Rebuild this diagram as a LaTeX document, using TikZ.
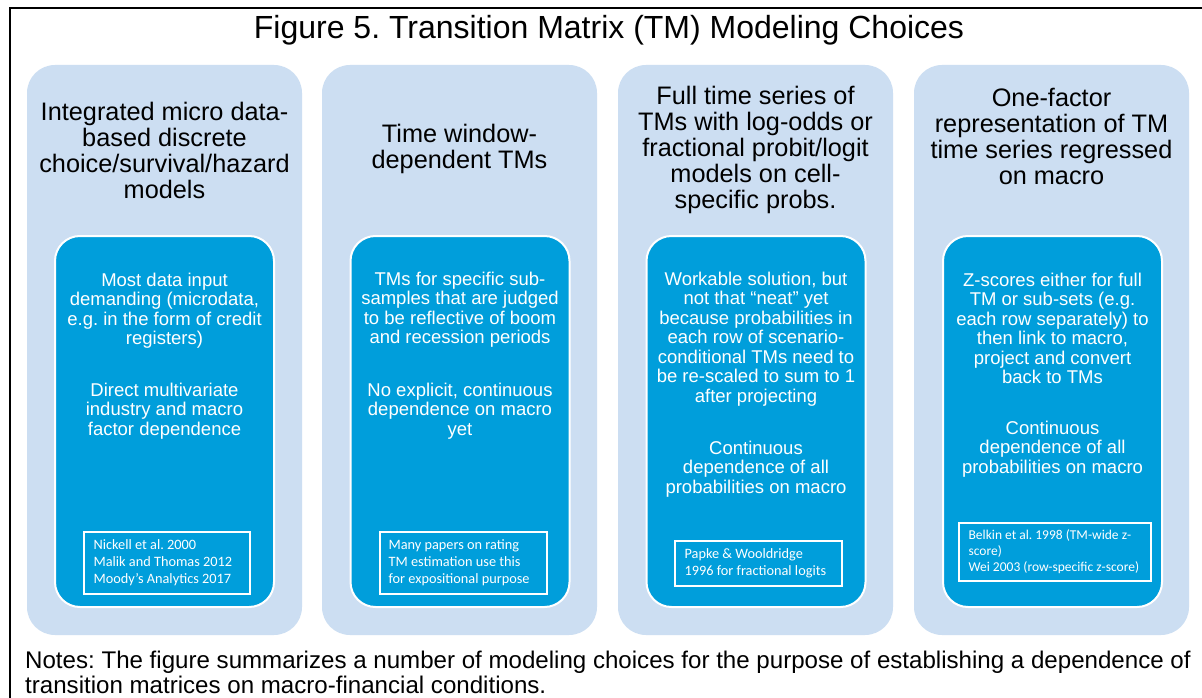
\documentclass[tikz,border=0pt]{standalone}
\usepackage{fontspec}
\setmainfont{Liberation Sans}
\newfontfamily\reffont{Carlito}
\definecolor{outerblue}{HTML}{CCDEF2}
\definecolor{innerblue}{HTML}{009EDB}
\frenchspacing
\begin{document}
\begin{tikzpicture}[x=1pt,y=-1pt,
 outerbox/.style={fill=outerblue, rounded corners=28pt, minimum width=275pt, minimum height=570pt, inner sep=0pt},
 innerbox/.style={fill=innerblue, draw=white, line width=2pt, rounded corners=25pt, minimum width=219pt, minimum height=371pt, inner sep=0pt},
 head/.style={align=center, font=\fontsize{25.3}{26}\selectfont, text=black, inner sep=0pt},
 body/.style={align=center, font=\fontsize{18.5}{19.5}\selectfont, text=white, inner sep=0pt},
 refbox/.style={draw=white, line width=1.2pt, inner sep=0pt},
 reftext/.style={align=left, font=\reffont\fontsize{14.3}{17}\selectfont, text=white, inner sep=0pt, anchor=west},
]
\useasboundingbox (0,0) rectangle (1202,698);
\clip (0,0) rectangle (1202,698);
\fill[white] (0,0) rectangle (1202,698);
\coordinate (fbl) at (10,720);
\coordinate (ftl) at (10,8);
\coordinate (ftr) at (1220,8);
\draw[line width=2.5pt] (fbl) -- (ftl) -- (ftr);

\node[inner sep=0pt, font=\fontsize{32}{34}\selectfont] (title) at (609,30) {Figure 5. Transition Matrix (TM) Modeling Choices};

% outer boxes
\node[outerbox] (o1) at (164.5,350) {};
\node[outerbox] (o2) at (459.5,350) {};
\node[outerbox] (o3) at (755.5,350) {};
\node[outerbox] (o4) at (1051.5,350) {};

% inner boxes
\node[innerbox] (i1) at (164.5,421.5) {};
\node[innerbox] (i2) at (460,421.5) {};
\node[innerbox] (i3) at (756,421.5) {};
\node[innerbox] (i4) at (1052.5,421.5) {};

% headers
\node[head] (h1) at (164.5,150) {Integrated micro data-\\based discrete\\choice/survival/hazard\\models};
\node[head] (h2) at (459.5,148.5) {Time window-\\dependent TMs};
\node[head] (h3) at (755.5,150) {Full time series of\\TMs with log-odds or\\fractional probit/logit\\models on cell-\\specific probs.};
\node[head] (h4) at (1051.5,136.5) {One-factor\\representation of TM\\time series regressed\\on macro};

% body texts
\node[body] (b1a) at (164.5,310.5) {Most data input\\demanding (microdata,\\e.g. in the form of credit\\registers)};
\node[body] (b1b) at (164.5,411) {Direct multivariate\\industry and macro\\factor dependence};
\node[body] (b2a) at (460,309.5) {TMs for specific sub-\\samples that are judged\\to be reflective of boom\\and recession periods};
\node[body] (b2b) at (460,411) {No explicit, continuous\\dependence on macro\\yet};
\node[body] (b3a) at (756,339) {Workable solution, but\\not that “neat” yet\\because probabilities in\\each row of scenario-\\conditional TMs need to\\be re-scaled to sum to 1\\after projecting};
\node[body] (b3b) at (756,469) {Continuous\\dependence of all\\probabilities on macro};
\node[body] (b4a) at (1052.5,328.5) {Z-scores either for full\\TM or sub-sets (e.g.\\each row separately) to\\then link to macro,\\project and convert\\back to TMs};
\node[body] (b4b) at (1052.5,449) {Continuous\\dependence of all\\probabilities on macro};

% reference boxes
\node[refbox, minimum width=166pt, minimum height=62pt] (r1) at (167,563) {};
\node[reftext] (t1) at ([xshift=10pt]r1.west) {Nickell et al. 2000\\Malik and Thomas 2012\\Moody’s Analytics 2017};
\node[refbox, minimum width=167pt, minimum height=62pt] (r2) at (463.5,563) {};
\node[reftext] (t2) at ([xshift=9pt]r2.west) {Many papers on rating\\TM estimation use this\\for expositional purpose};
\node[refbox, minimum width=167pt, minimum height=45pt] (r3) at (758.5,563.5) {};
\node[reftext] (t3) at ([xshift=10pt]r3.west) {Papke \& Wooldridge\\1996 for fractional logits};
\node[refbox, minimum width=192pt, minimum height=58pt] (r4) at (1055,552) {};
\node[reftext, font=\reffont\fontsize{13.5}{16}\selectfont] (t4) at ([xshift=10pt]r4.west) {Belkin et al. 1998 (TM-wide z-\\score)\\Wei 2003 (row-specific z-score)};

% notes
\node[anchor=west, align=left, inner sep=0pt, font=\fontsize{24.1}{25}\selectfont] (notes) at (25,672.5) {Notes: The figure summarizes a number of modeling choices for the purpose of establishing a dependence of\\transition matrices on macro-financial conditions.};
\end{tikzpicture}
\end{document}
